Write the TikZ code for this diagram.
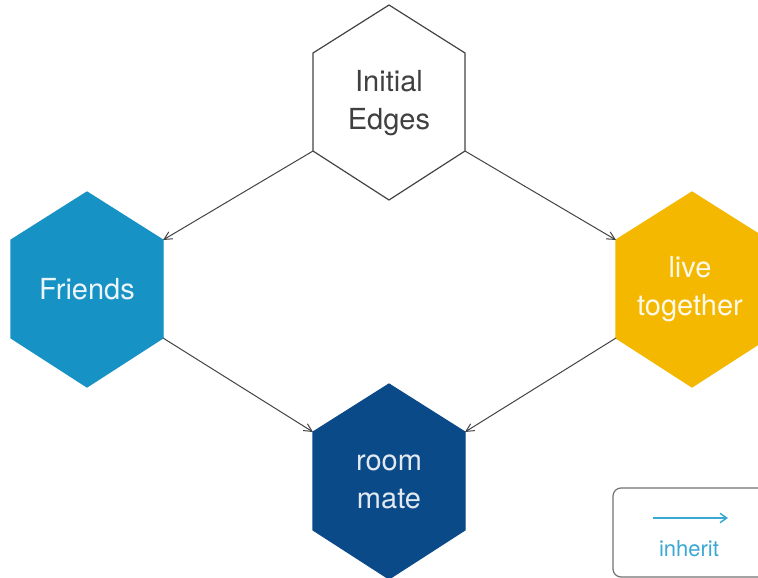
\documentclass[tikz,border=0pt]{standalone}
\usepackage{fontspec}
\setmainfont{TeX Gyre Heros}
\usetikzlibrary{arrows.meta}
\definecolor{fblue}{HTML}{1792C4}
\definecolor{lyellow}{HTML}{F4B800}
\definecolor{rnavy}{HTML}{0B4A88}
\definecolor{edgegray}{HTML}{444444}
\definecolor{legblue}{HTML}{3AA8D4}
\newcommand{\hexat}[4]{% name, center, fill, draw
  \path (#2) coordinate (#1-c)
    ++(0,-97) coordinate (#1-t)
    ++(76,48) coordinate (#1-tr)
    ++(0,98) coordinate (#1-br)
    ++(-76,49) coordinate (#1-b)
    ++(-76,-49) coordinate (#1-bl)
    ++(0,-98) coordinate (#1-tl);
  \draw[fill=#3,draw=#4,line width=0.9pt,line join=miter]
    (#1-t) -- (#1-tr) -- (#1-br) -- (#1-b) -- (#1-bl) -- (#1-tl) -- cycle;
}
\tikzset{
  hextext/.style={align=center,font=\fontsize{21.75pt}{28.5pt}\selectfont,inner sep=0pt},
  conn/.style={draw=edgegray,line width=0.75pt,-{Straight Barb[length=6pt,width=6pt]}},
}
\begin{document}
\begin{tikzpicture}[x=0.75pt,y=-0.75pt]
\useasboundingbox (0,0) rectangle (758,578);
\fill[white] (0,0) rectangle (758,578);
\hexat{ie}{389,102}{white}{edgegray}
\hexat{fr}{87,289}{fblue}{fblue}
\hexat{lt}{692,289}{lyellow}{lyellow}
\hexat{rm}{389,481}{rnavy}{rnavy}
\node[hextext,text=black!75] (ietext) at (389,103) {Initial\\Edges};
\node[hextext,text=white!92!fblue] (frtext) at (87,289) {Friends};
\node[hextext,text=white!92!lyellow] (lttext) at (690,289) {live\\together};
\node[hextext,text=white!88!rnavy] (rmtext) at (389,482) {room\\mate};
\draw[conn] (ie-bl) -- (fr-tr);
\draw[conn] (ie-br) -- (lt-tl);
\draw[conn] (fr-br) -- (rm-tl);
\draw[conn] (lt-bl) -- (rm-tr);
% legend
\draw[draw=black!55,line width=0.9pt,rounded corners=6pt] (613,488) rectangle (775,577);
\coordinate (la) at (653,518);
\coordinate (lb) at (728,518);
\draw[draw=legblue,line width=1.1pt,-{Straight Barb[length=5pt,width=7pt]}] (la) -- (lb);
\node[text=legblue,font=\fontsize{16.5pt}{19pt}\selectfont] (leg) at (689,549) {inherit};
\end{tikzpicture}
\end{document}
